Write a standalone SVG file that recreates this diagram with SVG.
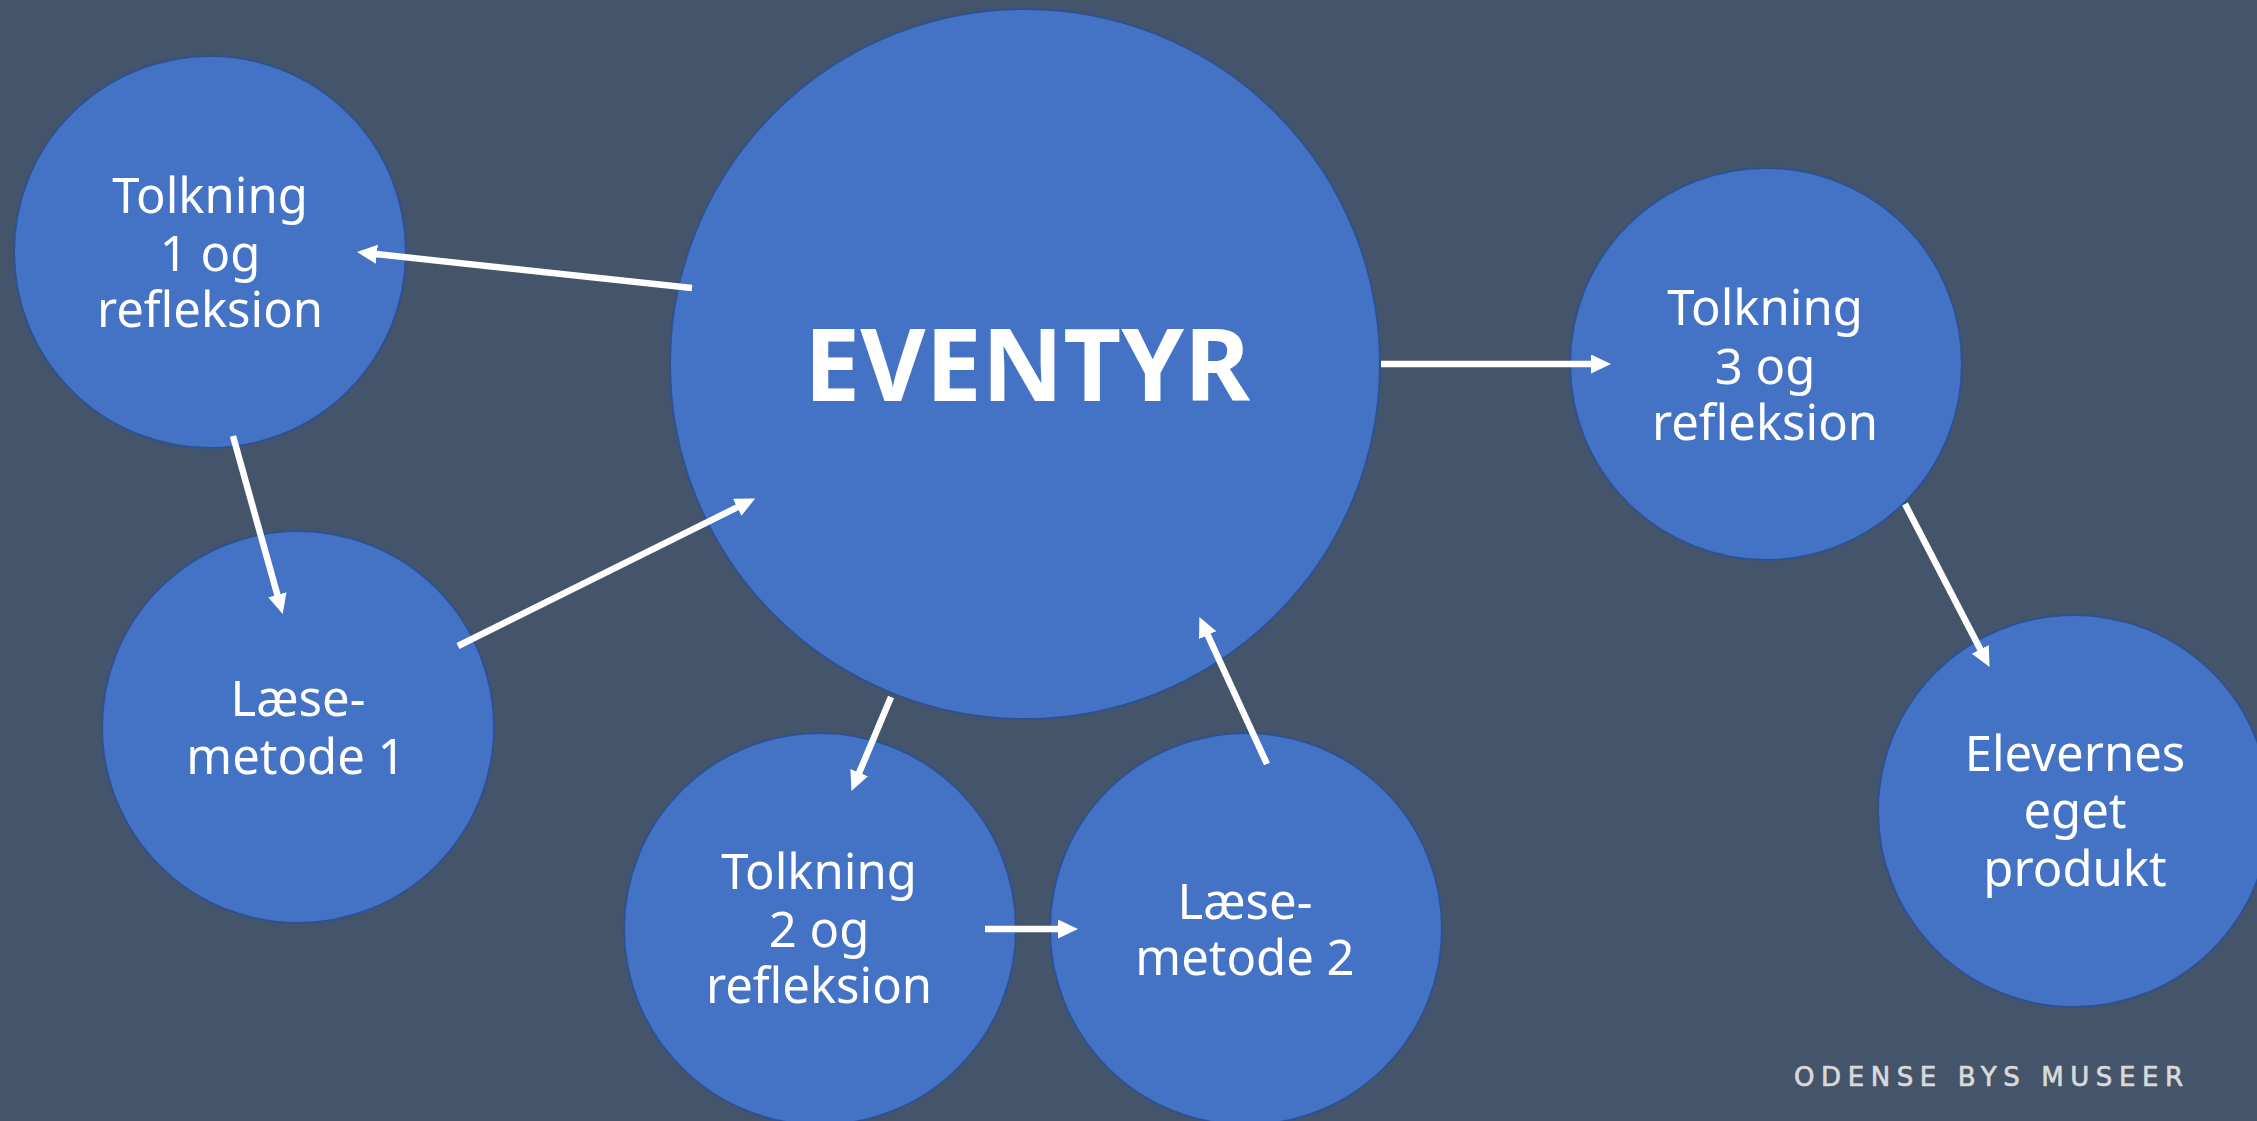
<svg xmlns="http://www.w3.org/2000/svg" width="2257" height="1121" viewBox="0 0 2257 1121">
<style>
.node{fill:#4472C4;stroke:#2F528F;stroke-width:2}
.lbl{fill:#FFFFFF;font-family:"Noto Sans","Open Sans","DejaVu Sans",sans-serif;font-size:49px;text-anchor:middle}
.big{fill:#FFFFFF;font-family:"Noto Sans","Open Sans","DejaVu Sans",sans-serif;font-size:100px;font-weight:bold;text-anchor:middle}
.conn{stroke:#FFFFFF;stroke-width:6.5;fill:none;marker-end:url(#ah)}
.logo{fill:#D9D9D9;stroke:#D9D9D9;stroke-width:0.7;font-family:"DejaVu Sans","Liberation Sans",sans-serif;font-size:26px}
</style>
<defs>
<marker id="ah" markerUnits="userSpaceOnUse" markerWidth="20" markerHeight="20" refX="1" refY="9.5" orient="auto">
<path d="M0,0 L20,9.5 L0,19 Z" fill="#FFFFFF"/>
</marker>
</defs>
<rect x="0" y="0" width="2257" height="1121" fill="#44546A"/>
<g id="eventyr">
<circle class="node" cx="1025" cy="364" r="355"/>
<text class="big" x="1027" y="401" textLength="446" lengthAdjust="spacingAndGlyphs">EVENTYR</text>
</g>
<g id="tolkning1">
<circle class="node" cx="210" cy="252" r="196"/>
<text class="lbl" x="210" y="213">Tolkning</text>
<text class="lbl" x="210" y="271">1 og</text>
<text class="lbl" x="210" y="327">refleksion</text>
</g>
<g id="laesemetode1">
<circle class="node" cx="298" cy="727" r="196"/>
<text class="lbl" x="298" y="716">Læse-</text>
<text class="lbl" x="296" y="774">metode 1</text>
</g>
<g id="tolkning2">
<circle class="node" cx="820" cy="929" r="196"/>
<text class="lbl" x="819" y="889">Tolkning</text>
<text class="lbl" x="819" y="947">2 og</text>
<text class="lbl" x="819" y="1003">refleksion</text>
</g>
<g id="laesemetode2">
<circle class="node" cx="1246" cy="929" r="196"/>
<text class="lbl" x="1245" y="919">Læse-</text>
<text class="lbl" x="1245" y="975">metode 2</text>
</g>
<g id="tolkning3">
<circle class="node" cx="1766" cy="364" r="196"/>
<text class="lbl" x="1765" y="325">Tolkning</text>
<text class="lbl" x="1765" y="384">3 og</text>
<text class="lbl" x="1765" y="440">refleksion</text>
</g>
<g id="elevernes">
<circle class="node" cx="2074" cy="811" r="196"/>
<text class="lbl" x="2075" y="771">Elevernes</text>
<text class="lbl" x="2075" y="828">eget</text>
<text class="lbl" x="2075" y="886">produkt</text>
</g>
<g id="connectors">
<line class="conn" x1="692" y1="288" x2="375.9" y2="254.1"/>
<line class="conn" x1="233" y1="436" x2="277.6" y2="595.7"/>
<line class="conn" x1="458" y1="646" x2="738.1" y2="506.9"/>
<line class="conn" x1="891" y1="697" x2="858.8" y2="773.6"/>
<line class="conn" x1="985" y1="929" x2="1059" y2="929"/>
<line class="conn" x1="1267" y1="764" x2="1207.3" y2="634.2"/>
<line class="conn" x1="1381" y1="364" x2="1592" y2="364"/>
<line class="conn" x1="1905" y1="504" x2="1980.8" y2="650.2"/>
</g>
<g id="logo">
<text class="logo" x="1794" y="1086" textLength="389" lengthAdjust="spacing">ODENSE BYS MUSEER</text>
</g>
</svg>
